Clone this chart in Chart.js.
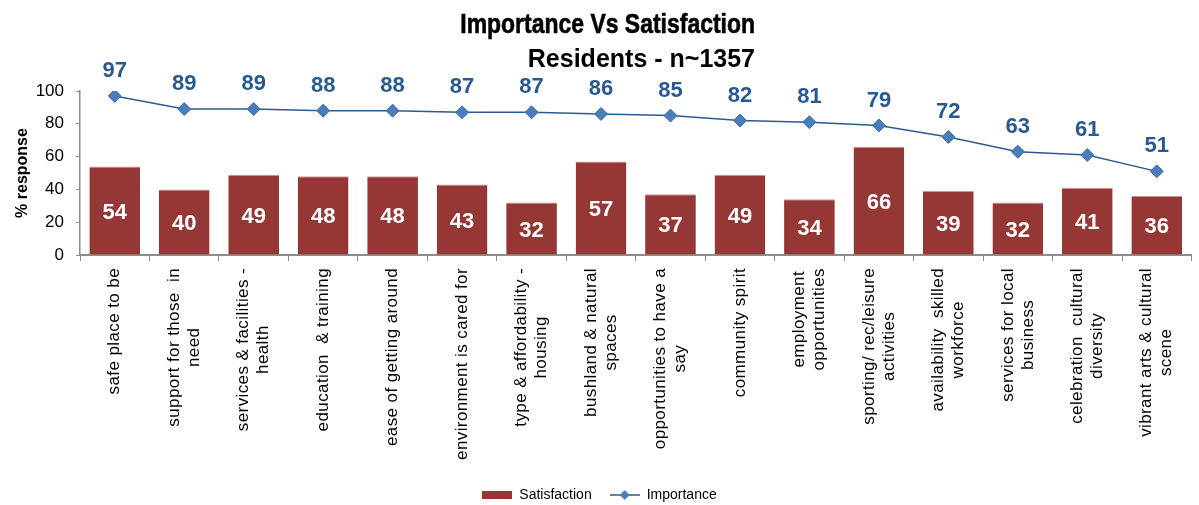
<!DOCTYPE html>
<html>
<head>
<meta charset="utf-8">
<script src="https://cdn.jsdelivr.net/npm/chart.js@4.4.0/dist/chart.umd.min.js"></script>
<style>
  html, body { margin: 0; padding: 0; background: #fff; }
</style>
</head>
<body>
<canvas id="chart" width="1199" height="505"></canvas>
<script>
// survey items, one array of text lines per category
const categories = [
  ['safe place to be'],
  ['support for those  in', 'need'],
  ['services & facilities -', 'health'],
  ['education  & training'],
  ['ease of getting around'],
  ['environment is cared for'],
  ['type & affordability -', 'housing'],
  ['bushland & natural', 'spaces'],
  ['opportunities to have a', 'say'],
  ['community spirit'],
  ['employment', 'opportunities'],
  ['sporting/ rec/leisure', 'activities'],
  ['availability  skilled', 'workforce'],
  ['services for local', 'business'],
  ['celebration  cultural', 'diversity'],
  ['vibrant arts & cultural', 'scene']
];
const satisfaction = [54, 40, 49, 48, 48, 43, 32, 57, 37, 49, 34, 66, 39, 32, 41, 36];
const importance = [97, 89, 89, 88, 88, 87, 87, 86, 85, 82, 81, 79, 72, 63, 61, 51];
const yTicks = [0, 20, 40, 60, 80, 100];

const BAR_RED = '#953735';
const LINE_BLUE = '#2d5b91';
const POINT_BLUE = '#4a7ebb';
const LABEL_BLUE = '#285a91';
const AXIS_GREY = '#8c8c8c';
const FONT = '"Liberation Sans", Arial, sans-serif';

Chart.defaults.font.family = FONT;
Chart.defaults.color = '#000';

// legend swatches
const barSwatch = document.createElement('canvas');
barSwatch.width = 30; barSwatch.height = 8;
barSwatch.getContext('2d').fillStyle = BAR_RED;
barSwatch.getContext('2d').fillRect(0, 0, 30, 8);

const lineSwatch = document.createElement('canvas');
lineSwatch.width = 30; lineSwatch.height = 12;
(function () {
  const c = lineSwatch.getContext('2d');
  c.strokeStyle = LINE_BLUE;
  c.lineWidth = 1.5;
  c.beginPath(); c.moveTo(0, 6); c.lineTo(30, 6); c.stroke();
  c.fillStyle = POINT_BLUE;
  c.beginPath();
  c.moveTo(10, 6); c.lineTo(15, 1); c.lineTo(20, 6); c.lineTo(15, 11);
  c.closePath(); c.fill();
})();

// two-line heading, right edges lined up
const heading = {
  id: 'heading',
  afterDraw(chart) {
    const ctx = chart.ctx;
    ctx.save();
    ctx.fillStyle = '#000';
    ctx.strokeStyle = '#000';
    ctx.textAlign = 'right';
    ctx.textBaseline = 'alphabetic';
    ctx.save();
    ctx.translate(755, 33);
    ctx.scale(0.82, 1);
    ctx.font = 'bold 28px ' + FONT;
    ctx.lineWidth = 0.6;
    ctx.fillText('Importance Vs Satisfaction', 0, 0);
    ctx.strokeText('Importance Vs Satisfaction', 0, 0);
    ctx.restore();
    ctx.font = 'bold 25px ' + FONT;
    ctx.fillText('Residents - n~1357', 755, 67);
    ctx.restore();
  }
};

// rotated category names, lines centred on each other
const categoryNames = {
  id: 'categoryNames',
  afterDraw(chart) {
    const {ctx, scales: {x}} = chart;
    ctx.save();
    ctx.font = '17px ' + FONT;
    ctx.letterSpacing = '0.4px';
    ctx.fillStyle = '#000';
    ctx.textAlign = 'center';
    ctx.textBaseline = 'middle';
    categories.forEach((lines, i) => {
      const widest = Math.max(...lines.map(l => ctx.measureText(l).width));
      ctx.save();
      ctx.translate(x.getPixelForValue(i), x.top + 13 + widest / 2);
      ctx.rotate(-Math.PI / 2);
      lines.forEach((line, j) => {
        ctx.fillText(line, 0, (j - (lines.length - 1) / 2) * 20);
      });
      ctx.restore();
    });
    ctx.restore();
  }
};

// numbers inside the bars and above the markers
const valueLabels = {
  id: 'valueLabels',
  afterDatasetsDraw(chart) {
    const ctx = chart.ctx;
    ctx.save();
    ctx.font = 'bold 22px ' + FONT;
    ctx.textAlign = 'center';
    ctx.textBaseline = 'middle';
    ctx.fillStyle = '#fff';
    chart.getDatasetMeta(0).data.forEach((bar, i) => {
      ctx.fillText(satisfaction[i], bar.x, (bar.y + bar.base) / 2 + 2);
    });
    ctx.fillStyle = LABEL_BLUE;
    chart.getDatasetMeta(1).data.forEach((pt, i) => {
      ctx.fillText(importance[i], pt.x, pt.y - 25);
    });
    ctx.restore();
  }
};

new Chart(document.getElementById('chart'), {
  data: {
    labels: categories.map(c => c.join(' ')),
    datasets: [
      {
        type: 'bar',
        label: 'Satisfaction',
        data: satisfaction,
        backgroundColor: BAR_RED,
        borderColor: '#c99594',
        borderWidth: {top: 1, left: 0, right: 0, bottom: 0},
        categoryPercentage: 1,
        barPercentage: 0.73
      },
      {
        type: 'line',
        label: 'Importance',
        data: importance,
        borderColor: LINE_BLUE,
        borderWidth: 1.5,
        pointStyle: 'rectRot',
        pointRadius: 6.5,
        pointBackgroundColor: POINT_BLUE,
        pointBorderColor: '#3c6ca3',
        pointBorderWidth: 1,
        tension: 0
      }
    ]
  },
  options: {
    responsive: false,
    animation: false,
    layout: {padding: {top: 91, left: 0, right: 0, bottom: -7}},
    scales: {
      x: {
        type: 'category',
        offset: true,
        grid: {offset: true, drawOnChartArea: false, drawTicks: true, tickLength: 6, color: AXIS_GREY},
        border: {color: AXIS_GREY, width: 2},
        ticks: {display: false},
        afterFit(scale) { scale.height = 215; }
      },
      y: {
        min: 0,
        max: 100,
        grid: {drawOnChartArea: false, drawTicks: true, tickLength: 4, color: AXIS_GREY},
        border: {color: AXIS_GREY, width: 1.5},
        ticks: {
          stepSize: 10,
          padding: 12,
          color: '#000',
          font: {size: 17},
          callback: v => (yTicks.includes(v) ? v : '')
        },
        title: {
          display: true,
          text: '% response',
          color: '#000',
          font: {size: 16, weight: 'bold'},
          padding: {top: 13, bottom: 0}
        },
        afterFit(scale) { scale.width = 80; }
      }
    },
    plugins: {
      title: {display: false},
      tooltip: {enabled: false},
      legend: {
        position: 'bottom',
        labels: {
          usePointStyle: true,
          pointStyleWidth: 30,
          padding: 18,
          color: '#000',
          font: {size: 14},
          generateLabels(chart) {
            const items = Chart.defaults.plugins.legend.labels.generateLabels(chart);
            items[0].pointStyle = barSwatch;
            items[1].pointStyle = lineSwatch;
            return items;
          }
        }
      }
    }
  },
  plugins: [heading, categoryNames, valueLabels]
});
</script>
</body>
</html>
